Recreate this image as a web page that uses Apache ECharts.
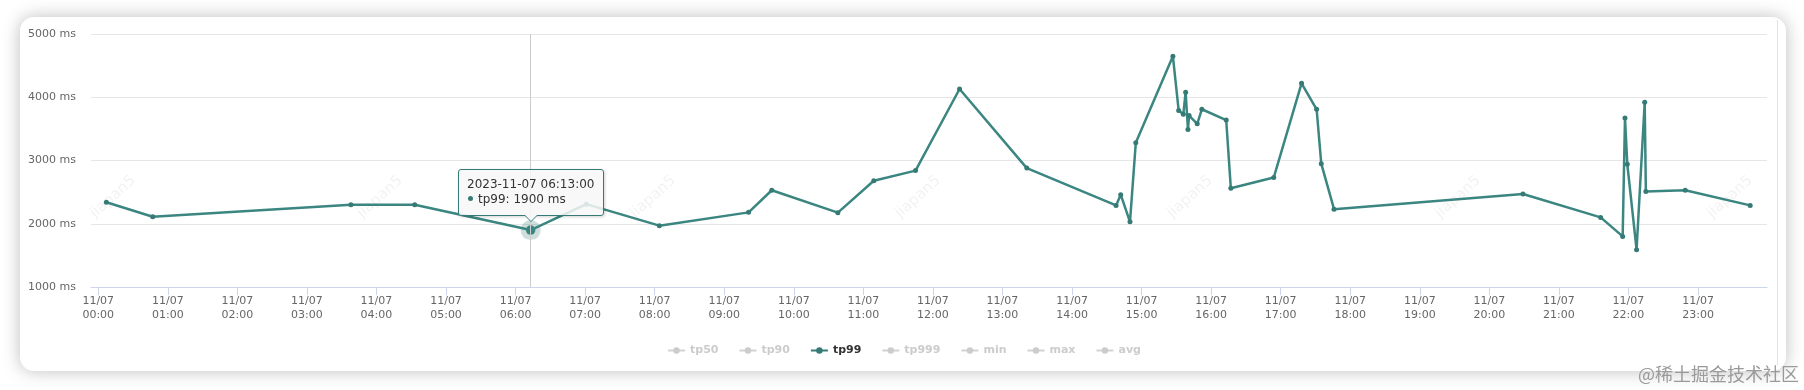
<!DOCTYPE html>
<html><head><meta charset="utf-8">
<script src="https://cdn.jsdelivr.net/npm/echarts@6/dist/echarts.min.js"></script>
<style>
html,body{margin:0;padding:0;width:1804px;height:390px;overflow:hidden;background:#fff;}
#card{position:absolute;left:20px;top:17px;width:1766px;height:354px;background:#fff;border-radius:14px;box-shadow:0 0 18px rgba(0,0,0,0.26);}
#vline{position:absolute;left:1777px;top:20px;width:1px;height:345px;background:#e4e4e4;}
#chart{position:absolute;left:0;top:0;width:1804px;height:390px;}
#jj{position:absolute;left:1638px;top:361px;font-size:18px;font-family:"Noto Sans CJK SC";color:#9a9a9a;white-space:nowrap;line-height:24px;}
</style></head><body>
<div id="card"></div><div id="vline"></div><div id="chart"></div><div id="jj">@稀土掘金技术社区</div>
<script>
// ---- data ----
const times = ['2023-11-07 00:07:00','2023-11-07 00:47:00','2023-11-07 03:38:00','2023-11-07 04:33:00','2023-11-07 06:13:00',
  '2023-11-07 07:01:00','2023-11-07 08:04:00','2023-11-07 09:21:00','2023-11-07 09:41:00','2023-11-07 10:38:00',
  '2023-11-07 11:09:00','2023-11-07 11:45:00','2023-11-07 12:23:00','2023-11-07 13:21:00','2023-11-07 14:38:00',
  '2023-11-07 14:42:00','2023-11-07 14:50:00','2023-11-07 14:55:00','2023-11-07 15:27:00','2023-11-07 15:32:00',
  '2023-11-07 15:36:00','2023-11-07 15:38:00','2023-11-07 15:40:00','2023-11-07 15:41:00','2023-11-07 15:48:00',
  '2023-11-07 15:52:00','2023-11-07 16:13:00','2023-11-07 16:17:00','2023-11-07 16:54:00','2023-11-07 17:18:00',
  '2023-11-07 17:31:00','2023-11-07 17:35:00','2023-11-07 17:46:00','2023-11-07 20:29:00','2023-11-07 21:36:00',
  '2023-11-07 21:55:00','2023-11-07 21:57:00','2023-11-07 21:59:00','2023-11-07 22:07:00','2023-11-07 22:14:00',
  '2023-11-07 22:15:00','2023-11-07 22:49:00','2023-11-07 23:45:00'];
const tp99 = [2340,2110,2300,2300,1900,
  2310,1970,2180,2530,2175,
  2680,2840,4130,2880,2290,
  2460,2030,3280,4650,3790,
  3730,4080,3490,3710,3580,
  3810,3640,2560,2730,4220,
  3810,2950,2230,2470,2100,
  1800,3670,2940,1590,3920,
  2510,2530,2290];
const legendNames = ['tp50','tp90','tp99','tp999','min','max','avg'];
const yTicks = [1000,2000,3000,4000,5000];
const X_MIN = '2023-11-06 23:53:45', X_MAX = '2023-11-07 23:59:30';
const HI = 4; // hovered point
const COLOR = '#367a76';
const FONT = 'DejaVu Sans';

function toMs(s){
  const m = s.match(/(\d+)-(\d+)-(\d+) (\d+):(\d+):(\d+)/);
  return new Date(+m[1], +m[2]-1, +m[3], +m[4], +m[5], +m[6]).getTime();
}
function pad(n){return (n<10?'0':'')+n;}
function fmt(ms){const d=new Date(ms);return d.getFullYear()+'-'+pad(d.getMonth()+1)+'-'+pad(d.getDate())+' '+pad(d.getHours())+':'+pad(d.getMinutes())+':'+pad(d.getSeconds());}

const chart = echarts.init(document.getElementById('chart'), null, {renderer:'canvas'});
const otherColors = ['#7cb5ec','#90ed7d','#f7a35c','#8085e9','#f15c80','#e4d354'];
let oc = 0;
const series = legendNames.map(n => {
  if (n === 'tp99') {
    return {
      name:'tp99', type:'line', z:3,
      data: times.map((t,i)=>[toMs(t), tp99[i]]),
      symbol:'circle', symbolSize:5, showSymbol:true, showAllSymbol:true,
      lineStyle:{color:COLOR, width:2.5}, itemStyle:{color:COLOR},
      emphasis:{scale:1.9, lineStyle:{width:2.5}},
      animation:false
    };
  }
  return {name:n, type:'line', data:[], symbol:'circle', symbolSize:5,
    lineStyle:{color:otherColors[oc], width:2.5}, itemStyle:{color:otherColors[oc++]}};
});
series.push({
  name:'halo', type:'scatter', z:1, silent:true, symbolSize:20,
  data:[[toMs(times[HI]), tp99[HI]]],
  itemStyle:{color:COLOR, opacity:0.25}, tooltip:{show:false}, animation:false
});
const selected = {};
legendNames.forEach(n => selected[n] = (n === 'tp99'));

const arrow = '<div style="position:absolute;left:50%;bottom:-7px;margin-left:-7px;width:0;height:0;border-left:7px solid transparent;border-right:7px solid transparent;border-top:7px solid '+COLOR+'"></div>'+
  '<div style="position:absolute;left:50%;bottom:-6px;margin-left:-6px;width:0;height:0;border-left:6px solid transparent;border-right:6px solid transparent;border-top:6px solid #f7f7f7"></div>';

chart.setOption({
  animation:false,
  grid:{left:91, right:37, top:34, bottom:103, containLabel:false, outerBoundsMode:'none'},
  legend:{data:legendNames, left:662, top:340, itemWidth:17, itemHeight:8, itemGap:20,
    selected:selected, inactiveColor:'#cccccc',
    textStyle:{color:'#333333', fontWeight:'bold', fontSize:11, fontFamily:FONT}},
  tooltip:{
    show:true, trigger:'axis', triggerOn:'mousemove', alwaysShowContent:true, showDelay:0, hideDelay:0, transitionDuration:0,
    backgroundColor:'rgba(247,247,247,0.85)', borderColor:COLOR, borderWidth:1, borderRadius:3,
    padding:[7,9,8,8],
    textStyle:{color:'#333333', fontSize:12, fontFamily:FONT},
    extraCssText:'box-shadow:1px 1px 3px rgba(0,0,0,0.18);line-height:15px;',
    axisPointer:{type:'line', animation:false, snap:true, lineStyle:{color:'#cccccc', width:1, type:'solid'}},
    position:function(point, params, dom, rect, size){
      const p = chart.convertToPixel({seriesIndex:0}, [toMs(times[HI]), tp99[HI]]);
      return [p[0]-size.contentSize[0]/2, p[1]-size.contentSize[1]-14];
    },
    formatter:function(params){
      const arr = Array.isArray(params)?params:[params];
      const p = arr.find(q=>q.seriesName==='tp99') || arr[0];
      return '<div style="white-space:nowrap">'+fmt(p.value[0])+'</div>'+
        '<div style="white-space:nowrap"><span style="display:inline-block;width:5px;height:5px;border-radius:3px;background:'+COLOR+';margin:0 5px 0 1px;vertical-align:middle;position:relative;top:-1px"></span>'+p.seriesName+': '+p.value[1]+' ms</div>'+arrow;
    }
  },
  xAxis:{
    type:'time', min:toMs(X_MIN), max:toMs(X_MAX),
    minInterval:3600*1000, maxInterval:3600*1000,
    axisLine:{show:true, lineStyle:{color:'#ccd6eb', width:1}},
    axisTick:{show:true, length:8, lineStyle:{color:'#ccd6eb'}},
    axisLabel:{formatter:'{MM}/{dd}\n{HH}:{mm}',
      color:'#666666', fontSize:11, fontFamily:FONT, lineHeight:14, margin:7, showMinLabel:false, showMaxLabel:false, hideOverlap:false},
    splitLine:{show:false}
  },
  yAxis:{
    type:'value', min:yTicks[0], max:yTicks[yTicks.length-1], interval:1000,
    axisLine:{show:false}, axisTick:{show:false},
    axisLabel:{formatter:function(v){return v + ' ms';}, color:'#666666', fontSize:11, fontFamily:FONT, margin:15},
    splitLine:{show:true, lineStyle:{color:'#e6e6e6', width:1}}
  },
  graphic:[113,380,653,918,1190,1458,1730].map(x => ({
    type:'text', x:x, y:197, rotation:0.73, silent:true, z:-10,
    style:{text:'jiapan5', fill:'rgba(0,0,0,0.055)', font:'15px "DejaVu Sans"', align:'center', verticalAlign:'middle'}
  })),
  series:series
});
function showIt(){
  try {
    const p = chart.convertToPixel({seriesIndex:0}, [toMs(times[HI]), tp99[HI]]);
    chart.getZr().trigger('mousemove', {offsetX:p[0], offsetY:p[1], zrX:p[0], zrY:p[1]});
  } catch(e) {}
}
showIt();
setTimeout(showIt, 30);
</script></body></html>
